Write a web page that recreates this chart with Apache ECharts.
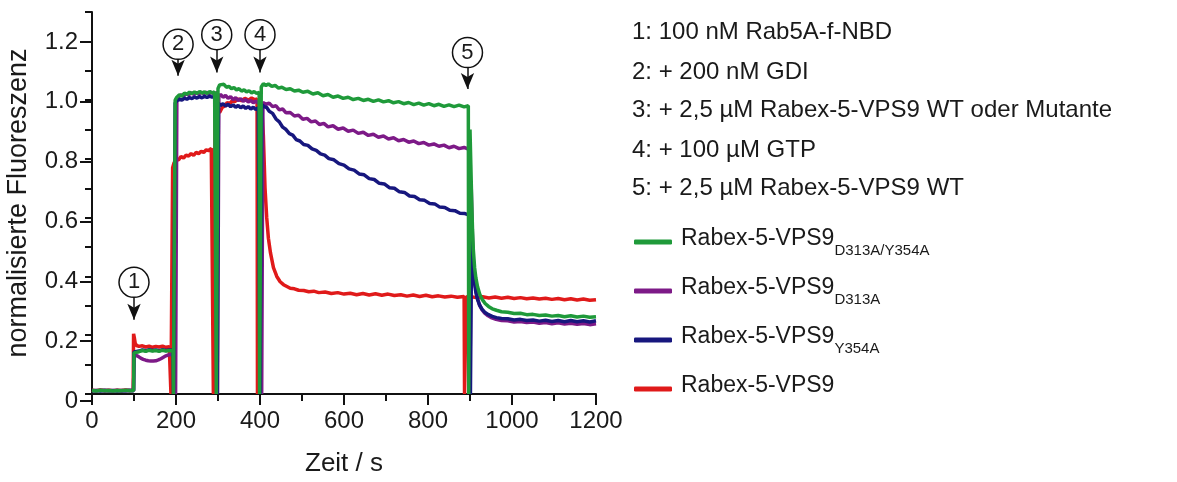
<!DOCTYPE html>
<html>
<head>
<meta charset="utf-8">
<script src="https://cdn.jsdelivr.net/npm/echarts@6/dist/echarts.min.js"></script>
<style>
  html, body { margin: 0; padding: 0; background: #fff; }
  #chart { width: 1177px; height: 482px; }
</style>
</head>
<body>
<div id="chart"></div>
<script>
// legend names: text after "_" is drawn as subscript
const seriesNames = ['Rabex-5-VPS9_D313A/Y354A', 'Rabex-5-VPS9_D313A', 'Rabex-5-VPS9_Y354A', 'Rabex-5-VPS9'];
const seriesColors = ['#1f9a3a', '#7d1a87', '#17177e', '#e01a1a'];

const stepTexts = [
  '1: 100 nM Rab5A-f-NBD',
  '2: + 200 nM GDI',
  '3: + 2,5 µM Rabex-5-VPS9 WT oder Mutante',
  '4: + 100 µM GTP',
  '5: + 2,5 µM Rabex-5-VPS9 WT'
];

// circled numbers + arrows (time, y of circle, y of arrow tip)
const markerLabels = ['1', '2', '3', '4', '5'];
const markerX = [100, 205, 297, 400, 894];
const markerY = [0.38, 1.19, 1.223, 1.223, 1.162];
const arrowTipY = [0.226, 1.056, 1.067, 1.067, 1.011];

const greenData = [
  [0,0.012],[10,0.010],[20,0.013],[30,0.011],[40,0.012],[50,0.010],[60,0.012],[70,0.011],[80,0.013],[90,0.011],[99,0.012],
  [100,0.14],[104,0.146],[112,0.144],[120,0.148],[128,0.145],[136,0.149],[144,0.146],[152,0.148],[160,0.145],[168,0.149],[176,0.146],[184,0.148],[193,0.147],
  [194,0],[197,0],[198,1.0],[202,1.01],[208,1.018],[214,1.014],[220,1.024],[226,1.02],[232,1.027],[238,1.022],[244,1.028],[250,1.023],[256,1.029],[262,1.024],[268,1.028],[274,1.023],[280,1.029],[286,1.024],[292,1.028],[295,1.026],
  [296,0],[299,0],[300,1.04],[304,1.052],[308,1.048],[314,1.054],[320,1.044],[326,1.047],[332,1.039],[338,1.043],[344,1.035],[350,1.039],[356,1.031],[362,1.035],[368,1.028],[374,1.032],[380,1.025],[386,1.029],[392,1.023],[398,1.026],
  [399,0],[402,0],[403,1.045],[408,1.056],[414,1.05],[420,1.055],[428,1.047],[436,1.05],[444,1.041],[452,1.044],[462,1.036],[472,1.039],[482,1.031],[492,1.034],[502,1.027],[514,1.03],[526,1.021],[538,1.025],[550,1.015],[562,1.019],[574,1.01],[586,1.014],[598,1.006],[610,1.01],[622,1.002],[634,1.006],[646,0.999],[658,1.003],[670,0.996],[682,1.001],[694,0.994],[706,0.998],[718,0.991],[730,0.995],[742,0.988],[754,0.992],[766,0.985],[778,0.99],[790,0.983],[802,0.988],[814,0.981],[826,0.986],[838,0.979],[850,0.984],[862,0.978],[874,0.983],[886,0.977],[896,0.981],
  [897,0],[899,0],[900,0.9],[902,0.78],[904,0.66],[906,0.56],[908,0.49],[911,0.43],[914,0.395],[918,0.365],[923,0.34],[929,0.322],[936,0.308],[944,0.298],[953,0.29],[963,0.285],[975,0.28],[990,0.278],[1005,0.274],[1020,0.275],[1035,0.27],[1050,0.271],[1065,0.267],[1080,0.269],[1095,0.265],[1110,0.267],[1125,0.263],[1140,0.266],[1155,0.262],[1170,0.265],[1185,0.261],[1200,0.263]
];

const purpleData = [
  [0,0.012],[10,0.011],[20,0.013],[30,0.010],[40,0.012],[50,0.011],[60,0.013],[70,0.010],[80,0.012],[90,0.011],[99,0.012],
  [100,0.135],[104,0.132],[110,0.128],[116,0.122],[122,0.118],[128,0.115],[134,0.113],[140,0.112],[146,0.112],[152,0.113],[158,0.116],[164,0.12],[170,0.125],[176,0.13],[182,0.133],[190,0.135],[198,0.136],
  [199,0],[201,0],[202,1.0],[206,1.012],[212,1.018],[218,1.014],[224,1.022],[230,1.018],[236,1.025],[242,1.02],[248,1.026],[254,1.021],[260,1.027],[266,1.022],[272,1.027],[278,1.022],[284,1.027],[290,1.022],[298,1.025],
  [299,0],[301,0],[302,1.012],[306,1.02],[312,1.01],[318,1.016],[324,1.006],[330,1.012],[336,1.002],[342,1.008],[348,0.999],[354,1.005],[360,0.996],[366,1.002],[372,0.994],[378,0.999],[384,0.991],[390,0.997],[396,0.99],[403,0.994],
  [404,0],[406,0],[407,0.992],[414,0.986],[422,0.99],[430,0.978],[438,0.981],[446,0.967],[454,0.97],[462,0.957],[472,0.958],[482,0.946],[492,0.949],[502,0.935],[512,0.938],[522,0.926],[532,0.929],[542,0.917],[552,0.921],[562,0.909],[574,0.913],[586,0.901],[598,0.905],[610,0.894],[622,0.898],[634,0.887],[646,0.891],[658,0.88],[670,0.884],[682,0.874],[694,0.878],[706,0.868],[718,0.872],[730,0.862],[742,0.866],[754,0.857],[766,0.861],[778,0.852],[790,0.856],[802,0.847],[814,0.851],[826,0.843],[838,0.847],[850,0.838],[862,0.843],[874,0.835],[886,0.839],[899,0.832],
  [900,0],[902,0],[903,0.7],[905,0.58],[907,0.48],[910,0.41],[913,0.365],[917,0.33],[922,0.305],[928,0.288],[935,0.275],[943,0.266],[952,0.259],[962,0.254],[975,0.25],[990,0.249],[1005,0.245],[1020,0.247],[1035,0.243],[1050,0.245],[1065,0.241],[1080,0.243],[1095,0.239],[1110,0.242],[1125,0.238],[1140,0.241],[1155,0.237],[1170,0.24],[1185,0.236],[1200,0.239]
];

const blueData = [
  [0,0.011],[10,0.012],[20,0.010],[30,0.013],[40,0.011],[50,0.012],[60,0.010],[70,0.012],[80,0.011],[90,0.013],[99,0.011],
  [100,0.143],[104,0.148],[112,0.146],[120,0.15],[128,0.147],[136,0.151],[144,0.148],[152,0.15],[160,0.147],[168,0.151],[176,0.148],[184,0.15],[193,0.149],
  [194,0],[197,0],[198,0.99],[202,0.998],[208,1.004],[214,1.0],[220,1.007],[226,1.003],[232,1.009],[238,1.005],[244,1.011],[250,1.007],[256,1.012],[262,1.008],[268,1.013],[274,1.009],[280,1.014],[286,1.01],[292,1.014],[297,1.012],
  [298,0],[300,0],[301,0.99],[306,0.982],[312,0.988],[318,0.98],[324,0.986],[330,0.978],[336,0.984],[342,0.976],[348,0.982],[354,0.974],[360,0.98],[366,0.972],[372,0.978],[378,0.97],[384,0.976],[390,0.968],[396,0.974],[399,0.972],
  [400,0],[403,0],[404,0.985],[410,0.978],[416,0.975],[422,0.962],[430,0.955],[438,0.936],[446,0.926],[454,0.908],[462,0.9],[470,0.886],[478,0.881],[486,0.866],[495,0.861],[504,0.849],[514,0.846],[524,0.834],[534,0.829],[544,0.817],[554,0.813],[564,0.801],[576,0.797],[588,0.784],[600,0.779],[612,0.766],[624,0.762],[636,0.749],[648,0.746],[660,0.733],[672,0.73],[684,0.717],[696,0.715],[708,0.702],[720,0.7],[732,0.688],[744,0.686],[756,0.674],[768,0.672],[780,0.661],[792,0.659],[804,0.648],[816,0.647],[828,0.636],[840,0.635],[852,0.625],[864,0.624],[876,0.615],[888,0.614],[900,0.608],
  [901,0],[903,0],[904,0.56],[906,0.48],[908,0.42],[911,0.375],[914,0.345],[918,0.322],[923,0.302],[929,0.288],[936,0.277],[944,0.27],[953,0.264],[963,0.26],[975,0.257],[990,0.256],[1005,0.252],[1020,0.254],[1035,0.25],[1050,0.252],[1065,0.248],[1080,0.251],[1095,0.247],[1110,0.25],[1125,0.246],[1140,0.25],[1155,0.246],[1170,0.249],[1185,0.245],[1200,0.249]
];

const redData = [
  [0,0.013],[10,0.011],[20,0.014],[30,0.012],[40,0.013],[50,0.011],[60,0.013],[70,0.012],[80,0.014],[90,0.012],[98,0.013],
  [99,0.205],[101,0.19],[103,0.172],[106,0.165],[112,0.162],[120,0.164],[128,0.16],[136,0.163],[144,0.159],[152,0.162],[160,0.16],[168,0.163],[176,0.159],[184,0.161],[187,0.16],
  [188,0],[191,0],[192,0.77],[195,0.785],[200,0.80],[206,0.796],[212,0.808],[218,0.803],[224,0.813],[230,0.81],[236,0.818],[242,0.812],[248,0.822],[254,0.818],[260,0.826],[266,0.822],[272,0.831],[278,0.828],[284,0.836],[288,0.834],
  [289,0],[292,0],[293,0.95],[298,0.962],[304,0.958],[310,0.975],[316,0.98],[322,0.992],[328,0.988],[334,0.998],[340,0.995],[348,1.004],[356,0.998],[364,1.006],[372,1.0],[380,1.007],[388,1.001],[393,1.004],
  [394,0],[397,0],[398,1.0],[404,0.98],[408,0.88],[412,0.70],[416,0.60],[420,0.53],[425,0.48],[432,0.43],[440,0.40],[448,0.382],[456,0.372],[464,0.366],[472,0.36],[482,0.358],[492,0.353],[504,0.352],[516,0.348],[528,0.35],[540,0.345],[555,0.347],[570,0.342],[585,0.345],[600,0.34],[615,0.343],[630,0.338],[645,0.342],[660,0.337],[675,0.341],[690,0.336],[705,0.34],[720,0.335],[735,0.338],[750,0.333],[765,0.337],[780,0.332],[795,0.336],[810,0.331],[825,0.334],[840,0.33],[855,0.333],[870,0.329],[886,0.332],
  [887,0],[890,0],[891,0.33],[900,0.332],[915,0.328],[930,0.331],[945,0.327],[960,0.33],[975,0.326],[990,0.329],[1005,0.325],[1020,0.328],[1035,0.324],[1050,0.327],[1065,0.323],[1080,0.326],[1095,0.322],[1110,0.325],[1125,0.321],[1140,0.324],[1155,0.32],[1170,0.323],[1185,0.319],[1200,0.321]
];

const FONT = 'Liberation Sans, Arial, Helvetica, sans-serif';
const TXT = '#1a1a1a';

const chart = echarts.init(document.getElementById('chart'), null, { renderer: 'canvas' });

function traceSeries(idx, data) {
  return {
    name: seriesNames[idx],
    type: 'line',
    xAxisIndex: 0,
    yAxisIndex: 0,
    data: data,
    showSymbol: false,
    symbol: 'none',
    lineStyle: { color: seriesColors[idx], width: 3.5 },
    itemStyle: { color: seriesColors[idx] },
    emphasis: { disabled: true }
  };
}

const option = {
  backgroundColor: '#fff',
  animation: false,
  textStyle: { fontFamily: FONT },
  grid: [
    { left: 92, right: 581, top: 12, bottom: 81 },
    // second grid only for the labelled 0.2 ticks (0 .. 1.2)
    { left: 92, right: 581, top: 41.9, bottom: 81 }
  ],
  xAxis: [
    {
      gridIndex: 0, type: 'value', min: 0, max: 1200, interval: 200,
      name: 'Zeit / s', nameLocation: 'middle', nameGap: 57,
      nameTextStyle: { fontSize: 26, color: TXT, fontFamily: FONT },
      axisLine: { lineStyle: { color: '#111', width: 2 } },
      axisTick: { length: 11, lineStyle: { color: '#111', width: 2 } },
      minorTick: { show: true, splitNumber: 2, length: 7, lineStyle: { color: '#111', width: 2 } },
      axisLabel: { fontSize: 24, color: TXT, margin: 15, fontFamily: FONT, formatter: v => String(v) },
      splitLine: { show: false }
    },
    { gridIndex: 1, type: 'value', min: 0, max: 1200, show: false }
  ],
  yAxis: [
    {
      gridIndex: 0, type: 'value', min: 0, max: 1.3, interval: 0.1,
      name: 'normalisierte Fluoreszenz', nameLocation: 'middle', nameGap: 60,
      nameTextStyle: { fontSize: 27, color: TXT, fontFamily: FONT },
      axisLine: { lineStyle: { color: '#111', width: 2 } },
      axisTick: { length: 7, lineStyle: { color: '#111', width: 2 } },
      axisLabel: { show: false },
      splitLine: { show: false }
    },
    {
      gridIndex: 1, type: 'value', min: 0, max: 1.2, interval: 0.2,
      axisLine: { show: false },
      axisTick: { length: 12, lineStyle: { color: '#111', width: 2 } },
      axisLabel: {
        fontSize: 24, color: TXT, margin: 14, fontFamily: FONT,
        formatter: v => (v === 0 ? '0' : v.toFixed(1))
      },
      splitLine: { show: false }
    }
  ],
  legend: {
    data: seriesNames,
    orient: 'vertical',
    left: 629,
    top: 222,
    itemWidth: 38,
    itemHeight: 5,
    itemGap: 18,
    icon: 'roundRect',
    selectedMode: false,
    formatter: function (name) {
      const parts = name.split('_');
      return parts[1] ? '{m|' + parts[0] + '}{s|' + parts[1] + '}' : '{m|' + parts[0] + '}';
    },
    textStyle: {
      color: TXT,
      fontFamily: FONT,
      rich: {
        m: { fontSize: 23, lineHeight: 30, verticalAlign: 'top', padding: [0, 0, 0, 4], color: TXT, fontFamily: FONT },
        s: { fontSize: 15, lineHeight: 18, verticalAlign: 'top', padding: [16, 0, 0, 0], color: TXT, fontFamily: FONT }
      }
    }
  },
  graphic: stepTexts.map((t, i) => ({
    type: 'text',
    x: 632,
    y: [32, 72, 110, 150, 188][i],
    style: { text: t, fontSize: 24, fontFamily: FONT, fill: TXT, verticalAlign: 'middle' }
  })),
  series: [
    traceSeries(3, redData),
    traceSeries(1, purpleData),
    traceSeries(2, blueData),
    traceSeries(0, greenData),
    {
      // annotations: circled step numbers with arrows
      name: 'marks',
      type: 'line',
      xAxisIndex: 0,
      yAxisIndex: 0,
      data: [],
      silent: true,
      markLine: {
        silent: true,
        symbol: ['none', 'arrow'],
        symbolSize: [10, 16],
        label: { show: false },
        lineStyle: { color: '#111', width: 1.5, type: 'solid' },
        data: markerX.map((x, i) => [
          { coord: [x, markerY[i] - 0.05] },
          { coord: [x, arrowTipY[i] + 0.027] }
        ])
      },
      markPoint: {
        silent: true,
        symbol: 'circle',
        symbolSize: 30,
        itemStyle: { color: '#fff', borderColor: '#111', borderWidth: 1.5 },
        label: { show: true, position: 'inside', fontSize: 22, color: TXT, fontFamily: FONT, formatter: p => p.name },
        data: markerX.map((x, i) => ({ name: markerLabels[i], coord: [x, markerY[i]] }))
      }
    }
  ]
};

chart.setOption(option);
</script>
</body>
</html>
